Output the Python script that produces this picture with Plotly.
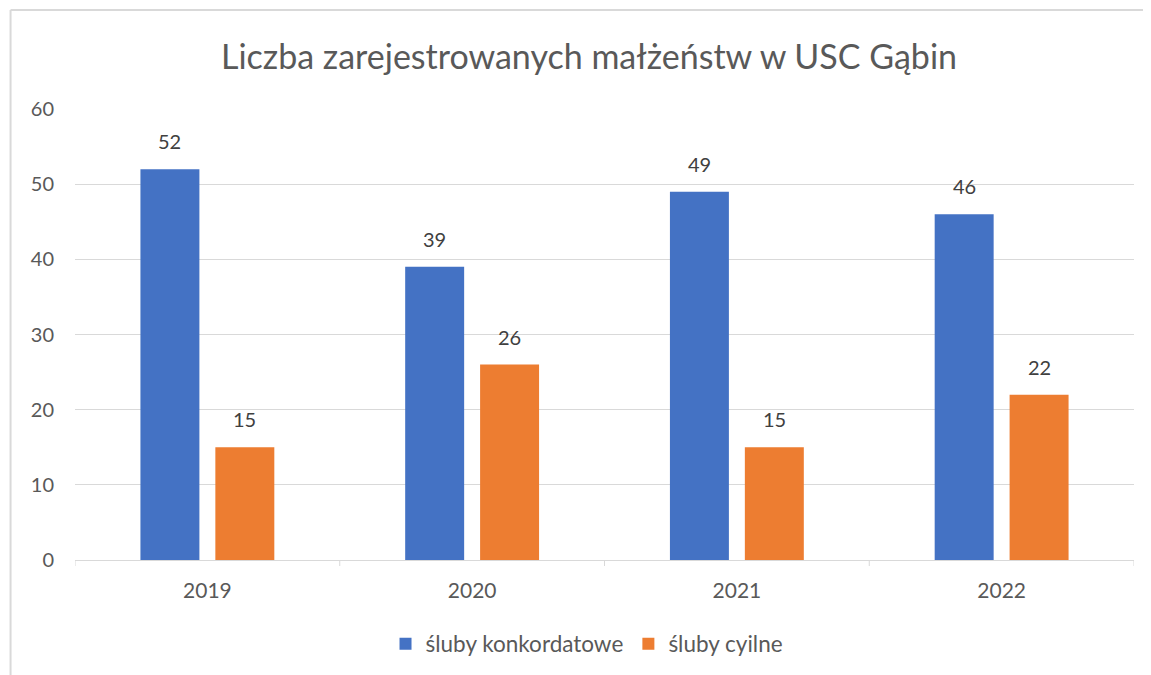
import plotly.graph_objects as go

years = ["2019", "2020", "2021", "2022"]
konkordatowe = [52, 39, 49, 46]
cywilne = [15, 26, 15, 22]
series_names = ["śluby konkordatowe", "śluby cyilne"]

W, H = 1151, 675
OFF = 8  # page body margin shifts the figure by 8px
ML, MR, MT, MB = 74.5 - OFF, 16.5 + OFF, 109 - OFF, 115 + OFF
FONT = "Lato"

fig = go.Figure()
fig.add_trace(go.Bar(x=years, y=konkordatowe, name=series_names[0], marker=dict(color="#4472c4", line=dict(width=0))))
fig.add_trace(go.Bar(x=years, y=cywilne, name=series_names[1], marker=dict(color="#ed7d31", line=dict(width=0))))

# data labels above each bar (x given as category index)
for vals, shift in [(konkordatowe, -37.5), (cywilne, 37.5)]:
    for i, v in enumerate(vals):
        fig.add_annotation(x=i, y=v, text=str(v), showarrow=False, xshift=shift, yshift=14,
                           yanchor="bottom", font=dict(family=FONT, size=20, color="#404040"))


def px_to_paper_x(px):
    return (px - OFF - ML) / (W - ML - MR)


def px_to_paper_y(py):
    return (H - MB - (py - OFF)) / (H - MT - MB)


# chart frame (left and top edges)
border = dict(color="#d9d9d9", width=2)
fig.add_shape(type="line", xref="paper", yref="paper", x0=px_to_paper_x(10), x1=px_to_paper_x(10),
              y0=px_to_paper_y(10), y1=px_to_paper_y(690), line=border)
fig.add_shape(type="line", xref="paper", yref="paper", x0=px_to_paper_x(10), x1=px_to_paper_x(1170),
              y0=px_to_paper_y(10), y1=px_to_paper_y(10), line=border)

fig.update_layout(
    width=W, height=H,
    margin=dict(l=ML, r=MR, t=MT, b=MB),
    paper_bgcolor="white", plot_bgcolor="white",
    barmode="group", bargap=0.434, bargroupgap=0.213,
    title=dict(text="Liczba zarejestrowanych małżeństw w USC Gąbin", x=px_to_paper_x(589), xref="paper",
               xanchor="center", y=1 - (57 - OFF) / H, yanchor="middle",
               font=dict(family=FONT, size=34, color="#595959")),
    font=dict(family=FONT, size=20, color="#595959"),
    xaxis=dict(type="category", range=[-0.5, len(years) - 0.5], showgrid=False, showline=True,
               linecolor="#d9d9d9", linewidth=1, ticks="", tickfont=dict(size=21, color="#595959"),
               ticklabelstandoff=12, automargin=False),
    yaxis=dict(range=[0, 60], dtick=10, showgrid=True, gridcolor="#d9d9d9", gridwidth=1,
               zeroline=False, showline=False, tickfont=dict(size=20, color="#595959"),
               ticklabelstandoff=20, automargin=False),
    legend=dict(orientation="h", x=px_to_paper_x(587), xanchor="center", y=px_to_paper_y(644), yanchor="middle",
                font=dict(size=22.5, color="#595959")),
    showlegend=True,
)

# category divider ticks on the x axis
for i in range(len(years) + 1):
    fig.add_shape(type="line", xref="x", yref="paper", x0=i - 0.5, x1=i - 0.5, y0=0, y1=px_to_paper_y(566),
                  line=dict(color="#d9d9d9", width=1))

fig.write_html("out.html")
